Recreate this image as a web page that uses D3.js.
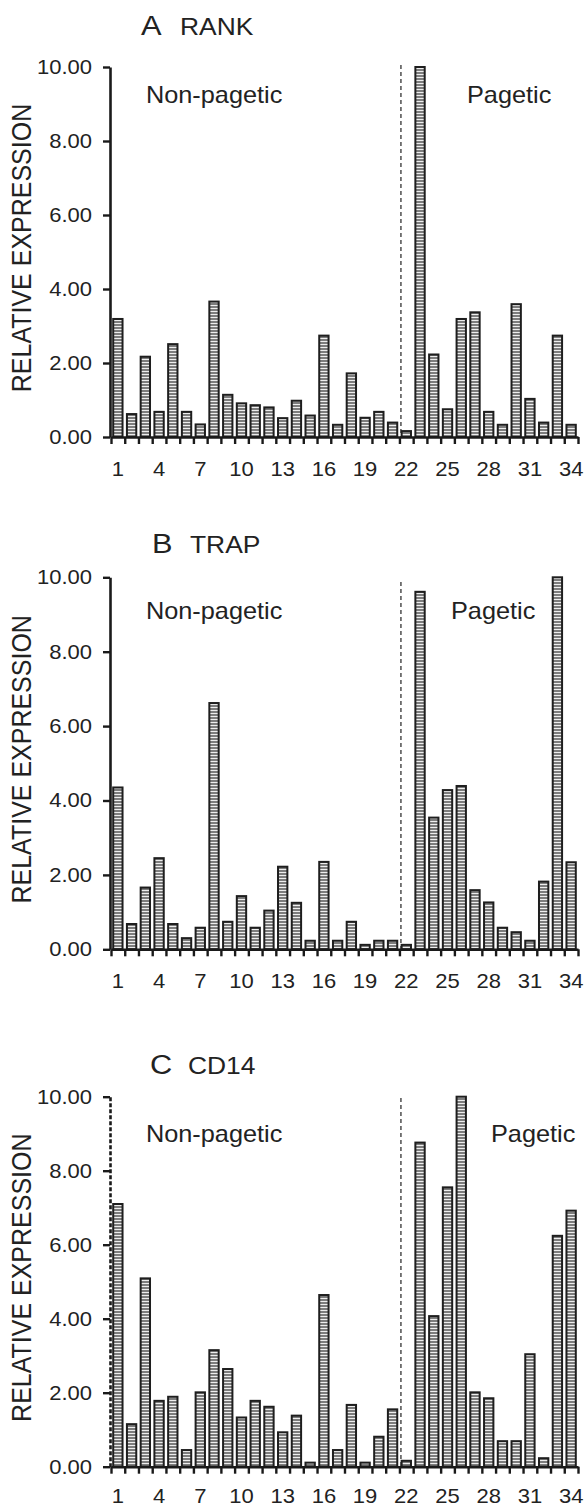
<!DOCTYPE html>
<html>
<head>
<meta charset="utf-8">
<script src="https://cdn.jsdelivr.net/npm/d3@7"></script>
<style>
  body { margin: 0; background: #fff; }
  svg { display: block; }
  text { font-family: "Liberation Sans", Arial, Helvetica, sans-serif; fill: #222; }
</style>
</head>
<body>
<script>
// data
var categories = d3.range(1, 35).map(String);
var rankValues = [3.19, 0.62, 2.17, 0.68, 2.51, 0.68, 0.34, 3.66, 1.14, 0.91,
                  0.86, 0.80, 0.51, 0.98, 0.58, 2.74, 0.33, 1.72, 0.52, 0.68,
                  0.39, 0.16, 10.00, 2.23, 0.75, 3.19, 3.37, 0.68, 0.33, 3.59,
                  1.03, 0.39, 2.74, 0.33];
var trapValues = [4.35, 0.68, 1.66, 2.45, 0.68, 0.30, 0.58, 6.62, 0.74, 1.43,
                  0.58, 1.04, 2.22, 1.25, 0.23, 2.35, 0.23, 0.74, 0.12, 0.23,
                  0.23, 0.12, 9.61, 3.54, 4.28, 4.39, 1.59, 1.26, 0.58, 0.46,
                  0.23, 1.82, 10.00, 2.34];
var cd14Values = [7.10, 1.15, 5.09, 1.78, 1.89, 0.45, 2.01, 3.15, 2.64, 1.33,
                  1.78, 1.62, 0.93, 1.38, 0.11, 4.64, 0.45, 1.67, 0.11, 0.81,
                  1.55, 0.16, 8.76, 4.07, 7.55, 10.00, 2.01, 1.85, 0.69, 0.69,
                  3.04, 0.23, 6.24, 6.92];
var xTickLabels = ["1", "4", "7", "10", "13", "16", "19", "22", "25", "28", "31", "34"];
var yTicks = [0, 2, 4, 6, 8, 10];
var panelLetters = ["A", "B", "C"];
var geneNames = ["RANK", "TRAP", "CD14"];
var groupNames = ["Non-pagetic", "Pagetic"];
var splitAt = "22";

var width = 587, height = 1508;
var sx = 1.1; // the original type is a little wide

// layout of each panel
var panels = [
  { values: rankValues, top: 67, base: 437, titleY: 35, letterX: 141, geneX: 180, groupY: 102.7, pagX: 467, dashTop: 65, labY: 476, dashedAxis: false },
  { values: trapValues, top: 577.3, base: 949.3, titleY: 552.7, letterX: 152, geneX: 190, groupY: 619.4, pagX: 451, dashTop: 582, labY: 988, dashedAxis: false },
  { values: cd14Values, top: 1096.7, base: 1466.7, titleY: 1074, letterX: 150, geneX: 188, groupY: 1141.5, pagX: 491, dashTop: 1098, labY: 1503, dashedAxis: true }
];

var svg = d3.select("body")
  .append("svg")
  .attr("width", width)
  .attr("height", height);

var defs = svg.append("defs");
var pat = defs.append("pattern")
  .attr("id", "stripes")
  .attr("patternUnits", "userSpaceOnUse")
  .attr("width", 6)
  .attr("height", 3);
pat.append("rect").attr("width", 6).attr("height", 3).attr("fill", "#eeeeee");
pat.append("rect").attr("width", 6).attr("height", 2).attr("fill", "#7d7d7d");

var x = d3.scaleBand().domain(categories).range([111, 578]);
var step = x.step();
var barW = step * 0.68;
var xb = d3.scaleLinear().domain([0, categories.length]).range([111, 578]);

function wideText(sel, tx, ty) {
  return sel.attr("transform", "translate(" + tx + "," + ty + ") scale(" + sx + ",1)");
}

panels.forEach(function(p, i) {
  var g = svg.append("g");
  var y = d3.scaleLinear().domain([0, 10]).range([p.base, p.top]);

  // bars
  g.selectAll(".bar")
    .data(p.values)
    .enter().append("rect")
    .attr("class", "bar")
    .attr("x", function(d, j) { return x(categories[j]) + (step - barW) / 2; })
    .attr("y", function(d) { return y(d); })
    .attr("width", barW)
    .attr("height", function(d) { return y(0) - y(d); })
    .attr("fill", "url(#stripes)")
    .attr("stroke", "#1e1e1e")
    .attr("stroke-width", 2);

  // separator between groups
  var sepX = x(splitAt) + 1.5;
  g.append("line")
    .attr("x1", sepX).attr("x2", sepX)
    .attr("y1", p.dashTop).attr("y2", p.base)
    .attr("stroke", "#222")
    .attr("stroke-width", 1.2)
    .attr("stroke-dasharray", "4,3");

  // y axis
  var yAxis = g.append("g")
    .attr("transform", "translate(110,0)")
    .call(d3.axisLeft(y).tickValues(yTicks).tickFormat(d3.format(".2f"))
      .tickSize(7).tickSizeOuter(0).tickPadding(9.4));
  yAxis.select(".domain").attr("stroke", "#1a1a1a").attr("stroke-width", 2.6);
  if (p.dashedAxis) yAxis.select(".domain").attr("stroke-dasharray", "4,2");
  yAxis.selectAll(".tick line").attr("stroke", "#1a1a1a").attr("stroke-width", 2.4);
  yAxis.selectAll(".tick text")
    .attr("font-size", 20)
    .attr("fill", "#222")
    .attr("transform", "scale(" + sx + ",1)");

  // x axis: ticks at the category boundaries
  var xAxis = g.append("g")
    .attr("transform", "translate(0," + p.base + ")")
    .call(d3.axisBottom(xb).tickValues(d3.range(categories.length + 1))
      .tickFormat("").tickSize(7).tickSizeOuter(0));
  xAxis.select(".domain").attr("stroke", "#1a1a1a").attr("stroke-width", 2.6);
  xAxis.selectAll(".tick line").attr("stroke", "#1a1a1a").attr("stroke-width", 2.4);

  // x labels every third case
  g.selectAll(".xlab")
    .data(xTickLabels)
    .enter().append("text")
    .attr("class", "xlab")
    .attr("text-anchor", "middle")
    .attr("font-size", 20)
    .each(function(d) {
      wideText(d3.select(this), x(d) + step / 2, p.labY);
    })
    .text(function(d) { return d; });

  // y title
  g.append("text")
    .attr("text-anchor", "middle")
    .attr("font-size", 25)
    .attr("transform", "translate(31," + ((p.top + p.base) / 2 - 4) + ") scale(" + sx + ",1) rotate(-90)")
    .text("RELATIVE EXPRESSION");

  // panel title
  wideText(g.append("text").attr("font-size", 28), p.letterX, p.titleY).text(panelLetters[i]);
  wideText(g.append("text").attr("font-size", 24), p.geneX, p.titleY).text(geneNames[i]);

  // group labels
  wideText(g.append("text").attr("font-size", 23), 146, p.groupY).text(groupNames[0]);
  wideText(g.append("text").attr("font-size", 23), p.pagX, p.groupY).text(groupNames[1]);
});
</script>
</body>
</html>
